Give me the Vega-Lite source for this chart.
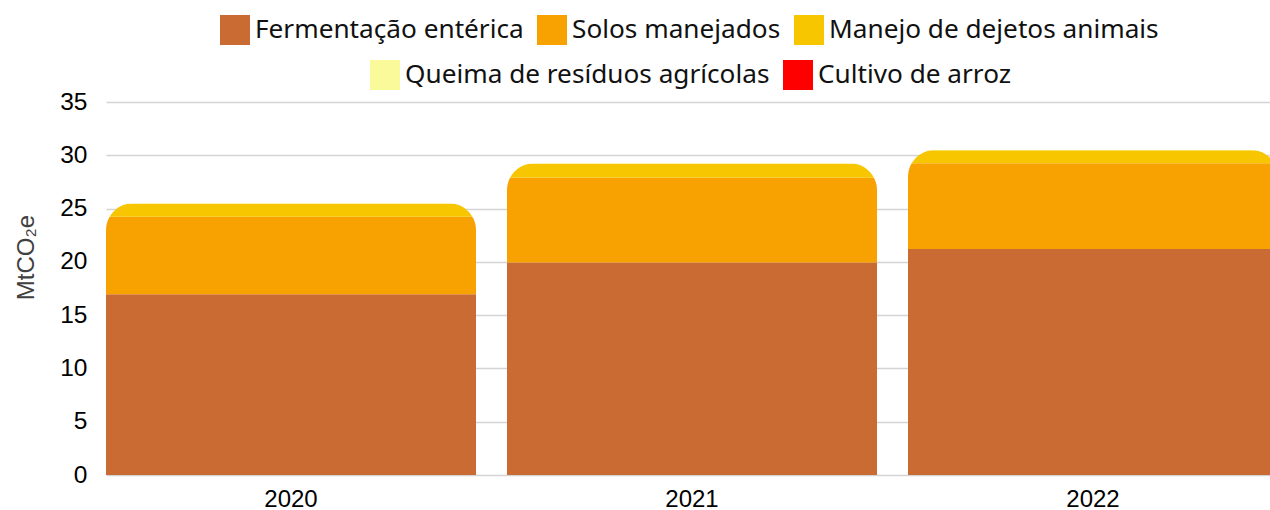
{
  "$schema": "https://vega.github.io/schema/vega-lite/v6.json",
  "width": 1164,
  "height": 373,
  "autosize": {"type": "none"},
  "padding": {"left": 106, "top": 102, "right": 0, "bottom": 35},
  "config": {
    "view": {"stroke": null},
    "font": "Liberation Sans",
    "legend": {
      "orient": "none",
      "direction": "horizontal",
      "title": null,
      "labelFont": "Noto Sans",
      "labelFontSize": 26.2,
      "labelColor": "#111111",
      "labelLimit": 0,
      "symbolType": "square",
      "symbolSize": 900,
      "symbolStrokeWidth": 0,
      "symbolOpacity": 1,
      "labelOffset": 5,
      "columnPadding": 13,
      "padding": 0
    }
  },
  "data": {
    "values": [
      {"ano": "2020", "categoria": "Fermentação entérica", "ordem": 1, "valor": 16.96},
      {"ano": "2020", "categoria": "Solos manejados", "ordem": 2, "valor": 7.28},
      {"ano": "2020", "categoria": "Manejo de dejetos animais", "ordem": 3, "valor": 1.24},
      {"ano": "2020", "categoria": "Queima de resíduos agrícolas", "ordem": 4, "valor": 0.02},
      {"ano": "2020", "categoria": "Cultivo de arroz", "ordem": 5, "valor": 0.0},
      {"ano": "2021", "categoria": "Fermentação entérica", "ordem": 1, "valor": 19.93},
      {"ano": "2021", "categoria": "Solos manejados", "ordem": 2, "valor": 7.97},
      {"ano": "2021", "categoria": "Manejo de dejetos animais", "ordem": 3, "valor": 1.33},
      {"ano": "2021", "categoria": "Queima de resíduos agrícolas", "ordem": 4, "valor": 0.02},
      {"ano": "2021", "categoria": "Cultivo de arroz", "ordem": 5, "valor": 0.0},
      {"ano": "2022", "categoria": "Fermentação entérica", "ordem": 1, "valor": 21.2},
      {"ano": "2022", "categoria": "Solos manejados", "ordem": 2, "valor": 8.05},
      {"ano": "2022", "categoria": "Manejo de dejetos animais", "ordem": 3, "valor": 1.23},
      {"ano": "2022", "categoria": "Queima de resíduos agrícolas", "ordem": 4, "valor": 0.02},
      {"ano": "2022", "categoria": "Cultivo de arroz", "ordem": 5, "valor": 0.0}
    ]
  },
  "encoding": {
    "x": {
      "field": "ano",
      "type": "nominal",
      "scale": {"range": [0, 1172], "paddingInner": 0.0773, "paddingOuter": 0},
      "axis": {
        "title": null,
        "labelAngle": 0,
        "domain": false,
        "ticks": false,
        "tickSize": 0,
        "labelFontSize": 24,
        "labelPadding": 12,
        "labelColor": "#000000"
      }
    }
  },
  "layer": [
    {
      "mark": {"type": "bar", "cornerRadiusTopLeft": 27, "cornerRadiusTopRight": 27},
      "encoding": {
        "y": {
          "field": "valor",
          "type": "quantitative",
          "stack": "zero",
          "scale": {"domain": [0, 35], "nice": false},
          "axis": {
            "values": [0, 5, 10, 15, 20, 25, 30, 35],
            "domain": false,
            "ticks": false,
            "tickSize": 0,
            "grid": true,
            "gridColor": "#d4d4d4",
            "gridWidth": 1.3,
            "labelFontSize": 24.5,
            "labelPadding": 19,
            "labelColor": "#000000",
            "title": "MtCO₂e",
            "titleFont": "Liberation Sans",
            "titleFontSize": 24,
            "titleFontWeight": "normal",
            "titleColor": "#404040",
            "titleAngle": 270,
            "titleX": -73,
            "titleY": 155,
            "titleAlign": "center",
            "titleBaseline": "alphabetic"
          }
        },
        "order": {"field": "ordem", "type": "quantitative", "sort": "ascending"},
        "color": {
          "field": "categoria",
          "type": "nominal",
          "sort": ["Fermentação entérica", "Solos manejados", "Manejo de dejetos animais", "Queima de resíduos agrícolas", "Cultivo de arroz"],
          "scale": {
            "domain": ["Fermentação entérica", "Solos manejados", "Manejo de dejetos animais", "Queima de resíduos agrícolas", "Cultivo de arroz"],
            "range": ["#C96B32", "#F7A200", "#F7C600", "#FAFA9B", "#FF0000"]
          },
          "legend": {
            "values": ["Fermentação entérica", "Solos manejados", "Manejo de dejetos animais"],
            "legendX": 114,
            "legendY": -87
          }
        }
      }
    },
    {
      "transform": [{"filter": {"field": "categoria", "oneOf": ["Queima de resíduos agrícolas", "Cultivo de arroz"]}}],
      "mark": {"type": "bar", "opacity": 0},
      "encoding": {
        "y": {"field": "valor", "type": "quantitative"},
        "fill": {
          "field": "categoria",
          "type": "nominal",
          "sort": ["Queima de resíduos agrícolas", "Cultivo de arroz"],
          "scale": {
            "domain": ["Queima de resíduos agrícolas", "Cultivo de arroz"],
            "range": ["#FAFA9B", "#FF0000"]
          },
          "legend": {
            "legendX": 264,
            "legendY": -42,
            "symbolOpacity": 1
          }
        }
      }
    }
  ]
}
